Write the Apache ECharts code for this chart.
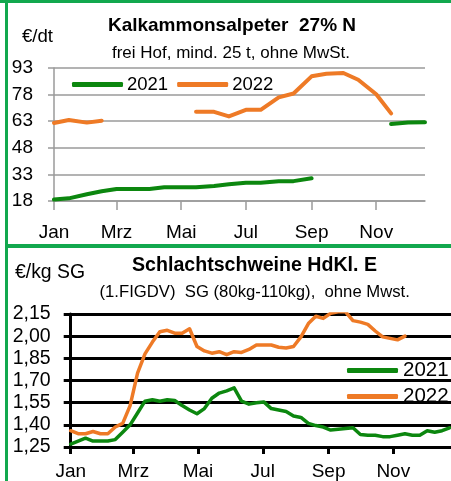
<!DOCTYPE html>
<html><head><meta charset="utf-8">
<script src="https://cdn.jsdelivr.net/npm/echarts@6/dist/echarts.min.js"></script>
<style>html,body{margin:0;padding:0;background:#fff}#c{width:451px;height:481px}</style>
</head><body><div id="c"></div>
<script>
// ---- shared axis ticks ----
const monthTickDays = [0, 59, 120, 181, 243, 304];
const monthLabels = ['Jan', 'Mrz', 'Mai', 'Jul', 'Sep', 'Nov'];

// ---- Panel 1: Kalkammonsalpeter 27% N (semi-monthly, day of year) ----
const kasDays = [0,14,31,45,59,73,90,104,120,134,151,165,181,195,212,226,243,257,273,287,304,318,334,350];
const kas2021 = [18.8,19.5,21.8,23.5,24.8,24.8,24.8,25.7,25.7,25.7,26.5,27.4,28.3,28.3,29.2,29.2,30.8,null,null,null,null,61.4,62.3,62.4];
const kas2022 = [62.0,63.7,62.2,63.3,null,null,null,null,null,68.3,68.3,65.7,69.4,69.4,76.4,78.6,88.3,89.8,90.2,86.4,78.2,67.4,null,null];
const kasYMin = 18, kasYMax = 93, kasYStep = 15;

// ---- Panel 2: Schlachtschweine HdKl. E (weekly) ----
const pigDays = Array.from({length: 52}, (_, i) => i * 7);
const pig2021 = [1.27,1.29,1.31,1.29,1.29,1.29,1.30,1.35,1.40,1.48,1.56,1.57,1.56,1.57,1.565,1.53,1.50,1.475,1.51,1.58,1.615,1.63,1.65,1.56,1.54,1.55,1.555,1.51,1.50,1.49,1.46,1.45,1.41,1.395,1.385,1.365,1.37,1.375,1.38,1.335,1.33,1.33,1.32,1.32,1.33,1.34,1.33,1.33,1.36,1.35,1.36,1.38];
const pig2022 = [1.36,1.34,1.34,1.355,1.34,1.34,1.385,1.41,1.53,1.75,1.88,1.96,2.03,2.04,2.02,2.02,2.05,1.93,1.90,1.885,1.895,1.875,1.895,1.89,1.91,1.94,1.94,1.94,1.925,1.92,1.93,1.995,2.085,2.135,2.12,2.155,2.165,2.165,2.105,2.095,2.08,2.035,1.995,1.985,1.975,2.0];
const pigYMin = 1.25, pigYMax = 2.15, pigYStep = 0.15;

const seriesNames = ['2021', '2022'];
const colors = ['#0c870f', '#ee7a26'];
const borderGreen = '#12a84e';
const FONT = '"Liberation Sans", Arial, sans-serif';

const pair = (xs, ys) => ys.map((v, i) => [xs[i], v]);

const chart = echarts.init(document.getElementById('c'), null, {renderer: 'canvas'});

const xAxisFor = (gridIndex, max, color, w, tickLen, margin) => ({
  type: 'value', gridIndex: gridIndex, min: 0, max: max,
  axisLine: {show: true, lineStyle: {color: color, width: w}},
  axisTick: {show: true, customValues: monthTickDays, length: tickLen, lineStyle: {color: color, width: w}},
  axisLabel: {customValues: monthTickDays, formatter: v => monthLabels[monthTickDays.indexOf(v)],
              color: '#000', fontFamily: FONT, fontSize: 19, margin: margin},
  splitLine: {show: false}
});

const option = {
  animation: false,
  textStyle: {fontFamily: FONT},
  grid: [
    {left: 54, top: 68, width: 371, height: 133},
    {left: 70.7, top: 314, right: 0, height: 134.3}
  ],
  xAxis: [
    xAxisFor(0, 350, '#9a9a9a', 1.5, 9, 22),
    xAxisFor(1, 358.4, '#000', 3, 7, 15)
  ],
  yAxis: [
    {type: 'value', gridIndex: 0, min: kasYMin, max: kasYMax, interval: kasYStep,
     axisLine: {show: true, lineStyle: {color: '#9a9a9a', width: 1.5}},
     axisTick: {show: true, length: 6, lineStyle: {color: '#9a9a9a', width: 1.5}},
     splitLine: {show: true, lineStyle: {color: '#9a9a9a', width: 1.5}},
     axisLabel: {color: '#000', fontFamily: FONT, fontSize: 19, margin: 21}},
    {type: 'value', gridIndex: 1, min: pigYMin, max: pigYMax, interval: pigYStep,
     axisLine: {show: true, lineStyle: {color: '#000', width: 3}},
     axisTick: {show: true, length: 7, lineStyle: {color: '#000', width: 3}},
     splitLine: {show: true, lineStyle: {color: '#000', width: 3}},
     axisLabel: {color: '#000', fontFamily: FONT, fontSize: 19.5, margin: 20,
                 formatter: v => v.toFixed(2).replace('.', ',')}}
  ],
  legend: [
    {data: seriesNames, left: 67, top: 70, orient: 'horizontal', icon: 'roundRect',
     itemWidth: 51, itemHeight: 5, itemGap: 9,
     textStyle: {color: '#000', fontFamily: FONT, fontSize: 18.5, padding: [0, 0, 0, -1]}},
    {data: seriesNames, left: 342, top: 355, orient: 'vertical', icon: 'roundRect',
     itemWidth: 51, itemHeight: 5, itemGap: 5,
     textStyle: {color: '#000', fontFamily: FONT, fontSize: 20.5}}
  ],
  series: [
    {name: seriesNames[0], type: 'line', xAxisIndex: 0, yAxisIndex: 0, data: pair(kasDays, kas2021),
     showSymbol: false, connectNulls: false, color: colors[0], lineStyle: {width: 4, cap: 'round', join: 'round'}},
    {name: seriesNames[1], type: 'line', xAxisIndex: 0, yAxisIndex: 0, data: pair(kasDays, kas2022),
     showSymbol: false, connectNulls: false, color: colors[1], lineStyle: {width: 4, cap: 'round', join: 'round'}},
    {name: seriesNames[0], type: 'line', xAxisIndex: 1, yAxisIndex: 1, data: pair(pigDays, pig2021),
     showSymbol: false, color: colors[0], lineStyle: {width: 3.5, cap: 'round', join: 'round'}},
    {name: seriesNames[1], type: 'line', xAxisIndex: 1, yAxisIndex: 1, data: pair(pigDays, pig2022),
     showSymbol: false, color: colors[1], lineStyle: {width: 3.5, cap: 'round', join: 'round'}}
  ],
  graphic: [
    {type: 'rect', shape: {x: 0, y: 0, width: 451, height: 3}, style: {fill: borderGreen}, z: 100},
    {type: 'rect', shape: {x: 5, y: 0, width: 3, height: 481}, style: {fill: borderGreen}, z: 100},
    {type: 'rect', shape: {x: 5, y: 244, width: 446, height: 4}, style: {fill: borderGreen}, z: 100},
    {type: 'text', x: 232, y: 26, style: {text: 'Kalkammonsalpeter  27% N', textAlign: 'center', textVerticalAlign: 'middle',
      font: 'bold 19px ' + FONT, fill: '#000'}},
    {type: 'text', x: 231, y: 53, style: {text: 'frei Hof, mind. 25 t, ohne MwSt.', textAlign: 'center', textVerticalAlign: 'middle',
      font: '17px ' + FONT, fill: '#000'}},
    {type: 'text', x: 22, y: 37, style: {text: '€/dt', textAlign: 'left', textVerticalAlign: 'middle',
      font: '18.6px ' + FONT, fill: '#000'}},
    {type: 'text', x: 254.5, y: 266, style: {text: 'Schlachtschweine HdKl. E', textAlign: 'center', textVerticalAlign: 'middle',
      font: 'bold 19.6px ' + FONT, fill: '#000'}},
    {type: 'text', x: 254.7, y: 292, style: {text: '(1.FIGDV)  SG (80kg-110kg),  ohne Mwst.', textAlign: 'center', textVerticalAlign: 'middle',
      font: '16.7px ' + FONT, fill: '#000'}},
    {type: 'text', x: 15, y: 273, style: {text: '€/kg SG', textAlign: 'left', textVerticalAlign: 'middle',
      font: '19.4px ' + FONT, fill: '#000'}}
  ]
};
chart.setOption(option);
</script></body></html>
